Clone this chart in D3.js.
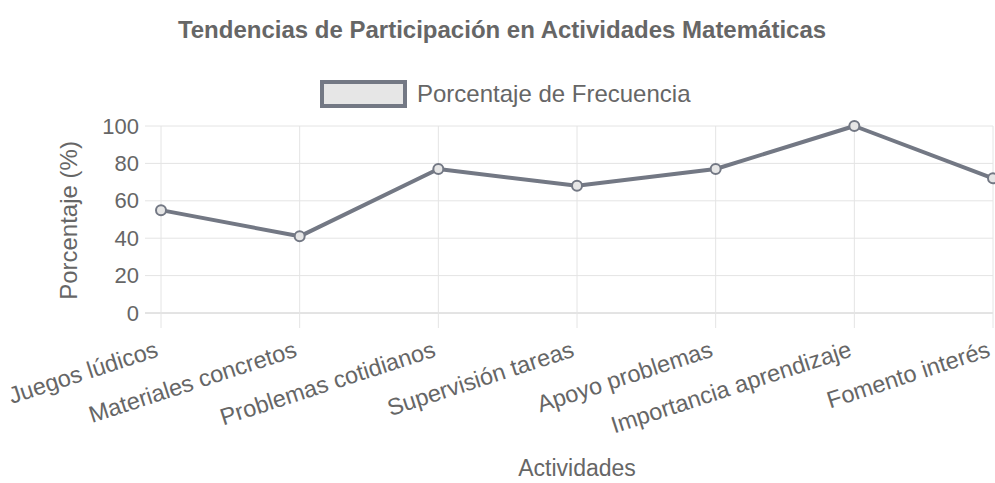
<!DOCTYPE html>
<html>
<head>
<meta charset="utf-8">
<title>Tendencias de Participación en Actividades Matemáticas</title>
<script src="https://d3js.org/d3.v7.min.js"></script>
<style>
  body { margin: 0; background: #fff; }
  text { font-family: "Liberation Sans", Arial, sans-serif; fill: #666; }
</style>
</head>
<body>
<div id="chart"></div>
<script>
// data
var actividades = ["Juegos lúdicos", "Materiales concretos", "Problemas cotidianos",
  "Supervisión tareas", "Apoyo problemas", "Importancia aprendizaje", "Fomento interés"];
var porcentajes = [55, 41, 77, 68, 77, 100, 72];
var yTicks = [0, 20, 40, 60, 80, 100];

var W = 995, H = 483;
var plotL = 161, plotR = 993, plotT = 126, plotB = 313;
var lineColor = "#737884";

var svg = d3.select("#chart").append("svg")
  .attr("width", W).attr("height", H);

var x = d3.scalePoint().domain(actividades).range([plotL, plotR]);
var y = d3.scaleLinear().domain([0, 100]).range([plotB, plotT]);

// title
svg.append("text")
  .attr("x", 502).attr("y", 38)
  .attr("text-anchor", "middle")
  .style("font-size", "24px").style("font-weight", "bold")
  .text("Tendencias de Participación en Actividades Matemáticas");

// legend
svg.append("rect")
  .attr("x", 322).attr("y", 82).attr("width", 83).attr("height", 24)
  .attr("fill", "#e6e6e6").attr("stroke", lineColor).attr("stroke-width", 4);
svg.append("text")
  .attr("x", 417).attr("y", 102)
  .style("font-size", "24px")
  .text("Porcentaje de Frecuencia");

// grid
var grid = svg.append("g");
grid.selectAll("line.h").data(yTicks).enter().append("line")
  .attr("x1", plotL - 16).attr("x2", plotR)
  .attr("y1", function(d) { return y(d); }).attr("y2", function(d) { return y(d); })
  .attr("stroke", function(d) { return d === 0 ? "#c8c8c8" : "#e4e4e4"; })
  .attr("stroke-width", 1);
grid.selectAll("line.v").data(actividades).enter().append("line")
  .attr("x1", function(d) { return x(d); }).attr("x2", function(d) { return x(d); })
  .attr("y1", plotT).attr("y2", plotB + 15)
  .attr("stroke", "#e4e4e4").attr("stroke-width", 1);

// y axis
var yAxis = svg.append("g")
  .attr("transform", "translate(" + (plotL - 16) + ",0)")
  .call(d3.axisLeft(y).tickValues(yTicks).tickSize(0).tickPadding(6));
yAxis.select(".domain").remove();
yAxis.selectAll("text").style("font-size", "22px").attr("fill", "#666");

// x axis labels, rotated
var xAxis = svg.append("g")
  .attr("transform", "translate(0," + (plotB + 15) + ")")
  .call(d3.axisBottom(x).tickSize(0).tickPadding(0));
xAxis.select(".domain").remove();
xAxis.selectAll("text")
  .style("font-size", "23.5px").attr("fill", "#666")
  .attr("text-anchor", "end")
  .attr("dy", null)
  .attr("y", 0)
  .attr("transform", "translate(-2,28) rotate(-18)");

// axis titles
svg.append("text")
  .attr("x", (plotL + plotR) / 2).attr("y", 476)
  .attr("text-anchor", "middle")
  .style("font-size", "23px")
  .text("Actividades");
svg.append("text")
  .attr("transform", "translate(77," + ((plotT + plotB) / 2 + 1) + ") rotate(-90)")
  .attr("text-anchor", "middle")
  .style("font-size", "24px")
  .text("Porcentaje (%)");

// line + points
var line = d3.line()
  .x(function(d, i) { return x(actividades[i]); })
  .y(function(d) { return y(d); });
svg.append("path")
  .datum(porcentajes)
  .attr("d", line)
  .attr("fill", "none")
  .attr("stroke", lineColor)
  .attr("stroke-width", 4)
  .attr("stroke-linejoin", "round");
svg.selectAll("circle.pt").data(porcentajes).enter().append("circle")
  .attr("cx", function(d, i) { return x(actividades[i]); })
  .attr("cy", function(d) { return y(d); })
  .attr("r", 5)
  .attr("fill", "#e6e6e6")
  .attr("stroke", lineColor)
  .attr("stroke-width", 2);
</script>
</body>
</html>
